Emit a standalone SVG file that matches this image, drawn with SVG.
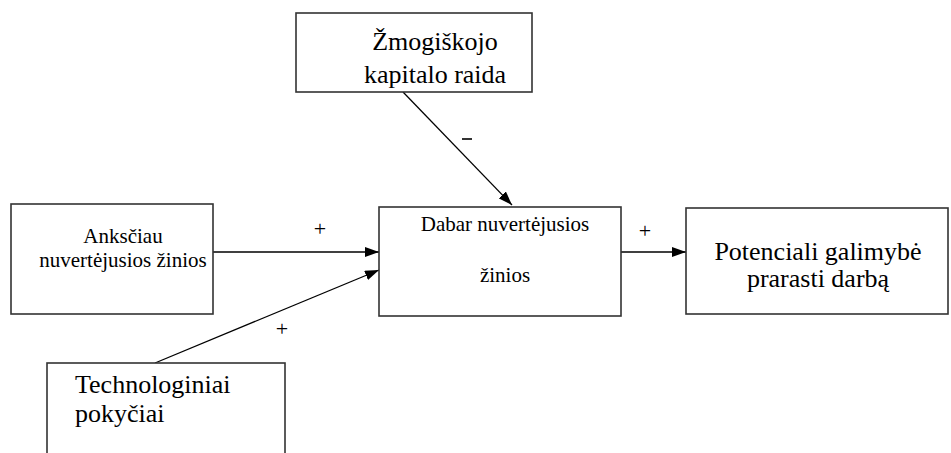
<svg xmlns="http://www.w3.org/2000/svg" width="951" height="453" viewBox="0 0 951 453">
  <style>
    .box { fill: #ffffff; stroke: #333333; stroke-width: 1.6; }
    .edge { stroke: #000000; stroke-width: 1.3; fill: none; }
  </style>
  <defs>
    <marker id="arrow" viewBox="0 0 14 10" refX="14" refY="5" markerWidth="14" markerHeight="10" markerUnits="userSpaceOnUse" orient="auto">
      <path d="M0,0 L14,5 L0,10 Z" fill="#000000"/>
    </marker>
  </defs>
  <rect width="951" height="453" fill="#ffffff"/>

  <!-- arrows between the boxes, with their sign labels -->
  <g id="connectors">
    <line class="edge" x1="213" y1="252" x2="379" y2="252" marker-end="url(#arrow)"/>
    <line class="edge" x1="155" y1="363" x2="379" y2="270" marker-end="url(#arrow)"/>
    <line class="edge" x1="403" y1="92" x2="512" y2="205" marker-end="url(#arrow)"/>
    <line class="edge" x1="621" y1="252" x2="686" y2="252" marker-end="url(#arrow)"/>
    <g font-family="Liberation Serif, serif" font-size="22" fill="#000000" text-anchor="middle">
      <text x="320" y="236">+</text>
      <text x="282" y="336">+</text>
      <text x="645" y="238">+</text>
    </g>
    <line x1="462" y1="139" x2="472" y2="139" stroke="#000000" stroke-width="1.6"/>
  </g>

  <g id="human-capital" font-family="Liberation Serif, serif" font-size="26" text-anchor="middle">
    <rect class="box" x="296" y="13" width="236" height="79"/>
    <text x="435" y="50">Žmogiškojo</text>
    <text x="435" y="83">kapitalo raida</text>
  </g>

  <g id="earlier-knowledge" font-family="Liberation Serif, serif" font-size="21" text-anchor="middle">
    <rect class="box" x="11" y="204" width="202" height="110"/>
    <text x="123" y="243">Anksčiau</text>
    <text x="123" y="267">nuvertėjusios žinios</text>
  </g>

  <g id="current-knowledge" font-family="Liberation Serif, serif" font-size="21" text-anchor="middle">
    <rect class="box" x="379" y="207" width="242" height="109"/>
    <text x="505" y="231">Dabar nuvertėjusios</text>
    <text x="505" y="282">žinios</text>
  </g>

  <g id="job-loss" font-family="Liberation Serif, serif" font-size="26" text-anchor="middle">
    <rect class="box" x="686" y="208" width="262" height="106"/>
    <text x="818" y="260">Potenciali galimybė</text>
    <text x="818" y="287">prarasti darbą</text>
  </g>

  <g id="tech-change" font-family="Liberation Serif, serif" font-size="26">
    <rect class="box" x="47" y="363" width="238" height="100"/>
    <text x="75" y="393">Technologiniai</text>
    <text x="75" y="422">pokyčiai</text>
  </g>
</svg>
